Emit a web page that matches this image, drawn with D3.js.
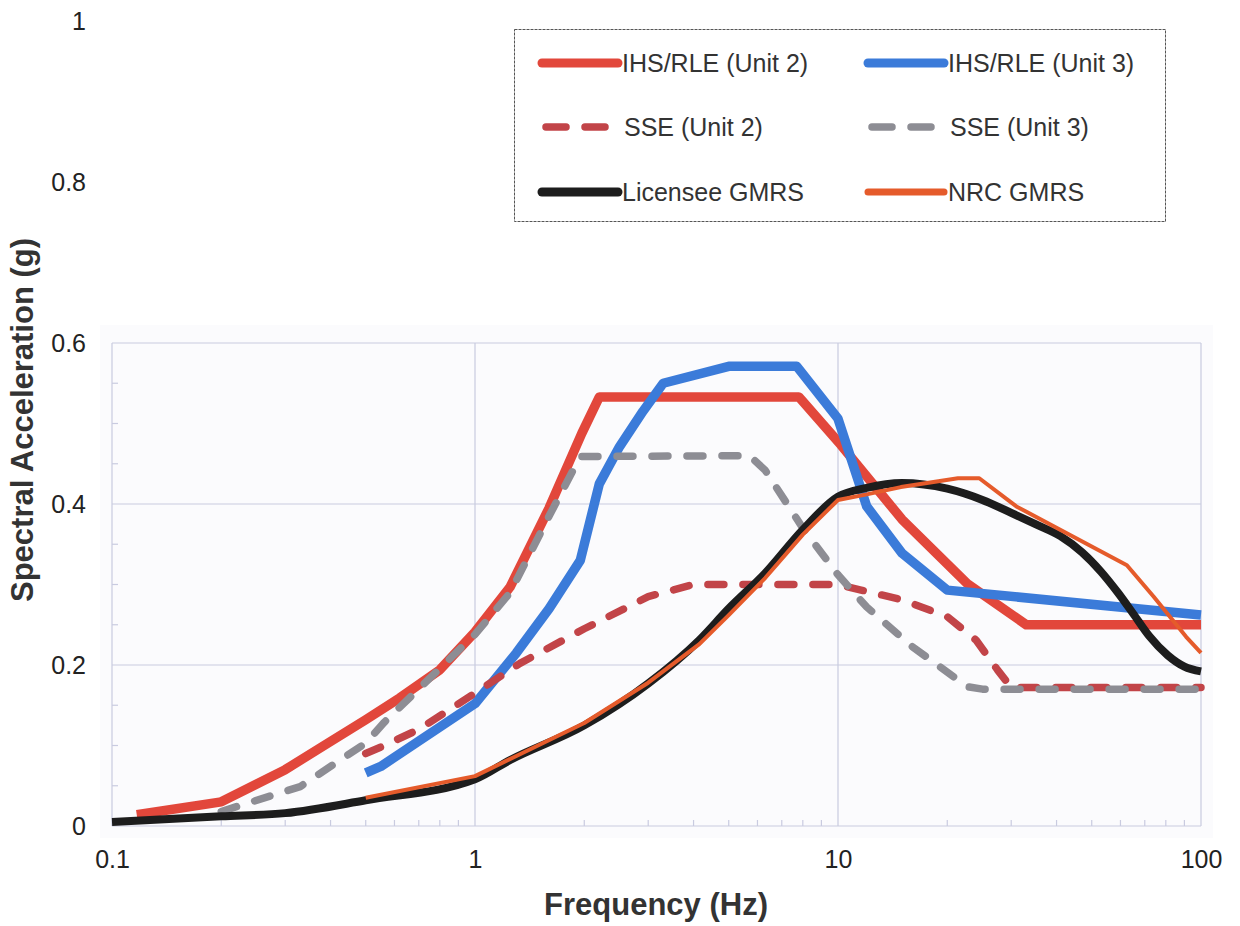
<!DOCTYPE html>
<html lang="en">
<head>
  <meta charset="utf-8">
  <title>Spectral Acceleration vs Frequency</title>
  <script src="https://cdnjs.cloudflare.com/ajax/libs/d3/7.8.5/d3.min.js"></script>
  <style>
    body { margin: 0; background: #fff; }
    svg { display: block; font-family: "Liberation Sans", Arial, sans-serif; }
  </style>
</head>
<body>
<script>
// tick values
const freqTicks = [0.1, 1, 10, 100];
const accTicks = [0, 0.2, 0.4, 0.6, 0.8, 1];
const gridAcc = [0.2, 0.4, 0.6];

// series: [frequency (Hz), spectral acceleration (g)]
const ihsUnit2 = [[0.117, 0.014], [0.2, 0.03], [0.3, 0.07], [0.4, 0.105], [0.5, 0.132], [0.62, 0.159],
  [0.8, 0.194], [1, 0.241], [1.25, 0.297], [1.6, 0.395], [1.97, 0.488], [2.2, 0.533], [7.8, 0.533],
  [10.2, 0.473], [15, 0.381], [22.7, 0.301], [33, 0.25], [100, 0.25]];
const ihsUnit3 = [[0.5, 0.066], [0.55, 0.074], [1, 0.152], [1.3, 0.215], [1.6, 0.27], [1.95, 0.33],
  [2.2, 0.425], [2.5, 0.471], [2.9, 0.515], [3.3, 0.55], [5, 0.571], [7.7, 0.571], [10, 0.506],
  [12, 0.397], [15, 0.339], [20, 0.293], [100, 0.262]];
const sseUnit2 = [[0.5, 0.09], [0.55, 0.098], [0.7, 0.12], [1, 0.165], [1.33, 0.202], [2, 0.245],
  [3, 0.285], [4, 0.3], [10, 0.3], [15, 0.281], [20, 0.26], [24, 0.231], [27.5, 0.194], [30, 0.172],
  [100, 0.172]];
const sseUnit3 = [[0.2, 0.018], [0.33, 0.049], [0.5, 0.103], [0.56, 0.128], [1, 0.238], [1.25, 0.29],
  [1.6, 0.385], [1.95, 0.459], [5.7, 0.46], [6.3, 0.442], [8, 0.37], [10, 0.312], [12, 0.272],
  [16, 0.223], [22.7, 0.173], [25, 0.17], [100, 0.17]];
const licenseeGmrs = [[0.1, 0.005], [0.2, 0.012], [0.3, 0.016], [0.5, 0.032], [1, 0.058], [1.25, 0.082],
  [2, 0.125], [3, 0.177], [4.15, 0.231], [5, 0.27], [6.3, 0.314], [8, 0.368], [10, 0.409],
  [12, 0.42], [15, 0.426], [20, 0.419], [25, 0.405], [30, 0.389], [35, 0.375], [41, 0.36],
  [47, 0.34], [53, 0.316], [59, 0.29], [65, 0.264], [72, 0.236], [81, 0.212], [90, 0.198], [100, 0.192]];
const nrcGmrs = [[0.5, 0.035], [1, 0.062], [1.3, 0.087], [2, 0.128], [3, 0.178], [4.15, 0.226], [5, 0.262],
  [6.3, 0.308], [8, 0.362], [10, 0.405], [12, 0.412], [14.9, 0.421], [21.4, 0.432], [24.5, 0.432],
  [31, 0.397], [46.4, 0.355], [62.5, 0.324], [74, 0.285], [91, 0.235], [100, 0.215]];

const seriesNames = ["IHS/RLE (Unit 2)", "IHS/RLE (Unit 3)", "SSE (Unit 2)", "SSE (Unit 3)", "Licensee GMRS", "NRC GMRS"];

const W = 1240, H = 926;
const svg = d3.select("body").append("svg").attr("width", W).attr("height", H);

const x = d3.scaleLog().domain([0.1, 100]).range([112, 1201]);
const y = d3.scaleLinear().domain([0, 1]).range([826, 21]);

const gridColor = "#c9cbe0";
const plotLeft = x(0.1), plotRight = x(100), plotTop = y(0.6), plotBottom = y(0);

// faint plot background
svg.append("rect")
  .attr("x", plotLeft - 12).attr("y", plotTop - 18)
  .attr("width", plotRight - plotLeft + 24).attr("height", plotBottom - plotTop + 30)
  .attr("fill", "#fbfbfd");

// grid lines
svg.append("g").selectAll("line").data(gridAcc).join("line")
  .attr("x1", plotLeft).attr("x2", plotRight)
  .attr("y1", d => y(d)).attr("y2", d => y(d))
  .attr("stroke", gridColor).attr("stroke-width", 1.2);
svg.append("g").selectAll("line").data(freqTicks).join("line")
  .attr("x1", d => x(d)).attr("x2", d => x(d))
  .attr("y1", plotTop).attr("y2", plotBottom)
  .attr("stroke", gridColor).attr("stroke-width", 1.2);
svg.append("line").attr("x1", plotLeft).attr("x2", plotRight).attr("y1", plotBottom).attr("y2", plotBottom)
  .attr("stroke", gridColor).attr("stroke-width", 1.2);

// minor ticks
const minorX = x.ticks().filter(d => !freqTicks.includes(d));
svg.append("g").selectAll("line").data(minorX).join("line")
  .attr("x1", d => x(d)).attr("x2", d => x(d))
  .attr("y1", plotBottom).attr("y2", plotBottom - 6)
  .attr("stroke", gridColor).attr("stroke-width", 1.2);
const minorY = d3.range(0.05, 0.6, 0.05).filter(d => Math.abs(d * 5 - Math.round(d * 5)) > 1e-6);
svg.append("g").selectAll("line").data(minorY).join("line")
  .attr("x1", plotLeft).attr("x2", plotLeft + 6)
  .attr("y1", d => y(d)).attr("y2", d => y(d))
  .attr("stroke", gridColor).attr("stroke-width", 1.2);

// axes labels via d3 axes
const xAxis = svg.append("g").attr("transform", `translate(0,${plotBottom})`)
  .call(d3.axisBottom(x).tickValues(freqTicks).tickSize(0).tickPadding(24).tickFormat(d3.format("~g")));
const yAxis = svg.append("g").attr("transform", `translate(${plotLeft},0)`)
  .call(d3.axisLeft(y).tickValues(accTicks).tickSize(0).tickPadding(26).tickFormat(d3.format("~g")));
[xAxis, yAxis].forEach(a => {
  a.select(".domain").remove();
  a.selectAll("text").attr("font-size", 25).attr("fill", "#222")
    .attr("font-family", "Liberation Sans, Arial, sans-serif");
});

// lines
const series = [
  { data: ihsUnit2, color: "#e2473b", width: 9.5 },
  { data: ihsUnit3, color: "#3b7bd9", width: 9.5 },
  { data: sseUnit2, color: "#c24448", width: 7.5, dash: "16,19" },
  { data: sseUnit3, color: "#8d8d94", width: 7.5, dash: "16,19" },
  { data: licenseeGmrs, color: "#1d1d1d", width: 8, smooth: true },
  { data: nrcGmrs, color: "#e55b2b", width: 4 }
];
series.forEach(s => {
  const line = d3.line().x(d => x(d[0])).y(d => y(d[1]))
    .curve(s.smooth ? d3.curveMonotoneX : d3.curveLinear);
  svg.append("path")
    .datum(s.data)
    .attr("d", line)
    .attr("fill", "none")
    .attr("stroke", s.color)
    .attr("stroke-width", s.width)
    .attr("stroke-linejoin", "round")
    .attr("stroke-linecap", s.dash ? "round" : "butt")
    .attr("stroke-dasharray", s.dash || null);
});

// axis titles
svg.append("text")
  .attr("x", 656).attr("y", 915)
  .attr("text-anchor", "middle")
  .attr("font-size", 31).attr("font-weight", "bold").attr("fill", "#333")
  .text("Frequency (Hz)");
svg.append("text")
  .attr("transform", "translate(33,420) rotate(-90)")
  .attr("text-anchor", "middle")
  .attr("font-size", 31).attr("font-weight", "bold").attr("fill", "#333")
  .text("Spectral Acceleration (g)");

// legend
const legend = svg.append("g");
legend.append("rect")
  .attr("x", 514.5).attr("y", 29.5).attr("width", 651).attr("height", 192)
  .attr("fill", "#fff").attr("stroke", "#555").attr("stroke-width", 1)
  .attr("stroke-dasharray", "3,1");
const legendRows = [63, 127, 192];
const legendCols = [542, 868];
series.forEach((s, i) => {
  const cx = legendCols[i % 2], cy = legendRows[Math.floor(i / 2)];
  const g = legend.append("g").attr("transform", `translate(${cx},${cy})`);
  if (s.dash) {
    g.append("line").attr("x1", 4).attr("x2", 72).attr("y1", 0).attr("y2", 0)
      .attr("stroke", s.color).attr("stroke-width", s.width)
      .attr("stroke-linecap", "round").attr("stroke-dasharray", "20,19");
  } else {
    g.append("line").attr("x1", 0).attr("x2", 76).attr("y1", 0).attr("y2", 0)
      .attr("stroke", s.color).attr("stroke-width", s.width === 4 ? 7 : 9)
      .attr("stroke-linecap", "round");
  }
  g.append("text")
    .attr("x", s.dash ? 82 : 80).attr("y", 9)
    .attr("font-size", 25).attr("fill", "#333")
    .text(seriesNames[i]);
});
</script>
</body>
</html>
